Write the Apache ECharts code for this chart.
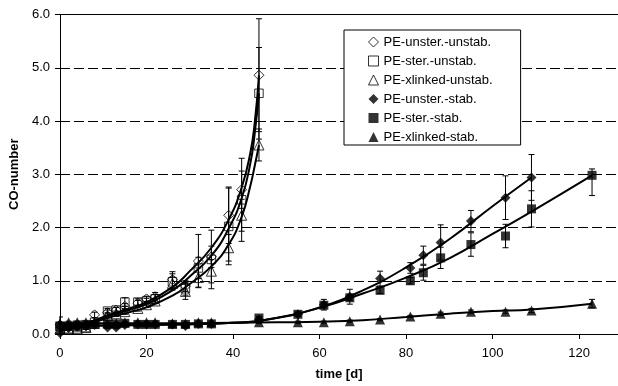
<!DOCTYPE html>
<html><head><meta charset="utf-8">
<script src="https://cdn.jsdelivr.net/npm/echarts@6/dist/echarts.min.js"></script>
<style>html,body{margin:0;padding:0;background:#fff}#c{width:618px;height:386px}</style>
</head><body><div id="c"></div>
<script>
// ---- data ----
const seriesNames = ['PE-unster.-unstab.', 'PE-ster.-unstab.', 'PE-xlinked-unstab.', 'PE-unster.-stab.', 'PE-ster.-stab.', 'PE-xlinked-stab.'];
const xTicks = [0, 20, 40, 60, 80, 100, 120];
const yTicks = [0, 1, 2, 3, 4, 5, 6];

const tUnstab = [0, 2, 4, 6, 8, 11, 13, 15, 18, 20, 22, 26, 29, 32, 35, 39, 42, 46];
const unsterUnstab  = [0.17, 0.12, 0.15, 0.15, 0.36, 0.40, 0.45, 0.52, 0.58, 0.66, 0.70, 1.02, 0.90, 1.37, 1.45, 2.23, 2.71, 4.86];
const sterUnstab    = [0.14, 0.10, 0.12, 0.12, 0.22, 0.43, 0.45, 0.60, 0.60, 0.62, 0.66, 0.98, 0.85, 1.24, 1.40, 2.02, 2.52, 4.52];
const xlinkedUnstab = [0.10, 0.10, 0.10, 0.12, 0.20, 0.35, 0.38, 0.42, 0.48, 0.55, 0.62, 0.95, 0.80, 1.06, 1.18, 1.62, 2.23, 3.55];
const errUnsterUnstab  = [0.15, 0.03, 0.03, 0.03, 0.05, 0.05, 0.05, 0.05, 0.05, 0.05, 0.08, 0.15, 0.10, 0.50, 0.20, 0.53, 0.35, 1.06];
const errSterUnstab    = [0.05, 0.03, 0.03, 0.03, 0.03, 0.05, 0.05, 0.08, 0.06, 0.05, 0.08, 0.15, 0.12, 0.20, 0.55, 0.72, 0.78, 0.86];
const errXlinkedUnstab = [0.03, 0.03, 0.03, 0.03, 0.03, 0.05, 0.05, 0.05, 0.05, 0.05, 0.05, 0.12, 0.15, 0.18, 0.22, 0.25, 0.30, 0.30];

const tStab = [0, 2, 4, 6, 8, 11, 13, 15, 18, 20, 22, 26, 29, 32, 35, 46, 55, 61, 67, 74, 81, 84, 88, 95, 103, 109, 123];
const unsterStab  = [0.02, 0.12, 0.14, 0.16, 0.17, 0.12, 0.12, 0.17, 0.18, 0.18, 0.18, 0.18, 0.15, 0.19, 0.19, 0.27, 0.37, 0.55, 0.70, 1.04, 1.24, 1.48, 1.72, 2.12, 2.56, 2.94, null];
const sterStab    = [0.15, 0.15, 0.17, 0.18, 0.18, 0.19, 0.19, 0.20, 0.18, 0.18, 0.18, 0.18, 0.18, 0.19, 0.19, 0.30, 0.37, 0.54, 0.68, 0.82, 1.00, 1.15, 1.43, 1.68, 1.84, 2.35, 2.98];
const xlinkedStab = [0.20, 0.22, 0.22, 0.22, 0.22, 0.20, 0.20, 0.22, 0.22, 0.22, 0.22, 0.20, 0.20, 0.22, 0.22, 0.22, 0.22, 0.22, 0.24, 0.27, 0.33, null, 0.38, 0.42, 0.42, 0.44, 0.57];
const errUnsterStab    = [0.02, 0.02, 0.02, 0.02, 0.02, 0.02, 0.02, 0.02, 0.02, 0.02, 0.02, 0.02, 0.02, 0.02, 0.02, 0.03, 0.04, 0.10, 0.14, 0.14, 0.10, 0.17, 0.33, 0.20, 0.41, 0.43, 0];
const errSterStabMinus = [0.03, 0.02, 0.02, 0.02, 0.02, 0.02, 0.02, 0.02, 0.02, 0.02, 0.02, 0.02, 0.02, 0.02, 0.02, 0.03, 0.04, 0.05, 0.05, 0.06, 0.06, 0.14, 0.20, 0.22, 0.22, 0.34, 0.38];
const errSterStabPlus  = [0.03, 0.02, 0.02, 0.02, 0.02, 0.02, 0.02, 0.02, 0.02, 0.02, 0.02, 0.02, 0.02, 0.02, 0.02, 0.03, 0.04, 0.05, 0.05, 0.06, 0.06, 0.14, 0.20, 0.22, 0.22, 0.34, 0.12];
const errXlinkedStab   = [0.02, 0.02, 0.02, 0.02, 0.02, 0.02, 0.02, 0.02, 0.02, 0.02, 0.02, 0.02, 0.02, 0.02, 0.02, 0.02, 0.02, 0.02, 0.02, 0.02, 0.02, 0, 0.03, 0.03, 0.03, 0.04, 0.08];

// trend curves
const fitTUnstab = [0, 6, 11, 16, 20, 26, 30, 35, 39, 42, 44, 45, 46];
const fitUnsterUnstab  = [0.08, 0.20, 0.35, 0.48, 0.60, 0.88, 1.18, 1.62, 2.15, 2.75, 3.40, 3.95, 4.86];
const fitSterUnstab    = [0.07, 0.19, 0.33, 0.45, 0.56, 0.82, 1.08, 1.47, 1.98, 2.55, 3.20, 3.75, 4.52];
const fitXlinkedUnstab = [0.06, 0.17, 0.30, 0.41, 0.50, 0.72, 0.94, 1.27, 1.68, 2.20, 2.78, 3.15, 3.55];
const fitTStab = [0, 20, 40, 50, 60, 70, 80, 90, 100, 109, 123];
const fitUnsterStab  = [0.15, 0.17, 0.21, 0.30, 0.50, 0.82, 1.25, 1.78, 2.40, 2.94];
const fitSterStab    = [0.15, 0.17, 0.21, 0.30, 0.49, 0.76, 1.06, 1.42, 1.88, 2.30, 2.98];
const fitXlinkedStab = [0.20, 0.20, 0.21, 0.22, 0.23, 0.26, 0.32, 0.38, 0.43, 0.46, 0.57];

// ---- chart ----
const FONT = 'Liberation Sans, Arial, sans-serif';
const defs = [
  {t: tUnstab, v: unsterUnstab,  em: errUnsterUnstab,  ep: errUnsterUnstab,  ft: fitTUnstab, fv: fitUnsterUnstab,  sym: 'diamond',  size: 10, hollow: true},
  {t: tUnstab, v: sterUnstab,    em: errSterUnstab,    ep: errSterUnstab,    ft: fitTUnstab, fv: fitSterUnstab,    sym: 'rect',     size: 8.5, hollow: true},
  {t: tUnstab, v: xlinkedUnstab, em: errXlinkedUnstab, ep: errXlinkedUnstab, ft: fitTUnstab, fv: fitXlinkedUnstab, sym: 'triangle', size: 10, hollow: true},
  {t: tStab, v: unsterStab,  em: errUnsterStab,    ep: errUnsterStab,   ft: fitTStab, fv: fitUnsterStab,  sym: 'diamond',  size: 10, hollow: false},
  {t: tStab, v: sterStab,    em: errSterStabMinus, ep: errSterStabPlus, ft: fitTStab, fv: fitSterStab,    sym: 'rect',     size: 9, hollow: false},
  {t: tStab, v: xlinkedStab, em: errXlinkedStab,   ep: errXlinkedStab,  ft: fitTStab, fv: fitXlinkedStab, sym: 'triangle', size: 10, hollow: false}
];
const hollowStyle = {color: 'rgba(0,0,0,0)', borderColor: '#000', borderWidth: 1};
const filledStyle = {color: '#000', borderColor: '#000', borderWidth: 0};

function errRender(params, api) {
  const x = api.value(0), y = api.value(1), lo = api.value(2), hi = api.value(3);
  if (!(lo > 0 || hi > 0)) return null;
  const top = api.coord([x, y + hi]);
  const bot = api.coord([x, Math.max(0, y - lo)]);
  const hw = 3;
  const st = {stroke: '#000', lineWidth: 1};
  return {type: 'group', children: [
    {type: 'line', shape: {x1: top[0], y1: top[1], x2: bot[0], y2: bot[1]}, style: st},
    {type: 'line', shape: {x1: top[0] - hw, y1: top[1], x2: top[0] + hw, y2: top[1]}, style: st},
    {type: 'line', shape: {x1: bot[0] - hw, y1: bot[1], x2: bot[0] + hw, y2: bot[1]}, style: st}
  ]};
}

const series = [];
defs.forEach((d, k) => {
  series.push({
    name: 'fit' + k, type: 'line', silent: true, z: 3,
    data: d.ft.map((x, i) => d.fv[i] == null ? null : [x, d.fv[i]]).filter(p => p),
    smooth: 0.5, symbol: 'none',
    lineStyle: {color: '#000', width: 2}
  });
  series.push({
    name: 'err' + k, type: 'custom', silent: true, z: 2, clip: true,
    renderItem: errRender, encode: {x: 0, y: 1},
    data: d.t.map((x, i) => d.v[i] == null ? null : [x, d.v[i], d.em[i], d.ep[i]]).filter(p => p)
  });
  series.push({
    name: seriesNames[k], type: 'scatter', z: 4,
    symbol: d.sym, symbolSize: d.size,
    itemStyle: d.hollow ? hollowStyle : filledStyle,
    data: d.t.map((x, i) => d.v[i] == null ? null : [x, d.v[i]]).filter(p => p)
  });
});

const chart = echarts.init(document.getElementById('c'), null, {renderer: 'canvas'});
chart.setOption({
  animation: false,
  backgroundColor: '#fff',
  textStyle: {fontFamily: FONT},
  grid: {left: 57.4, right: 0, top: 14.5, bottom: 50},
  legend: {
    orient: 'vertical', left: 344, top: 30,
    data: seriesNames.map((n, k) => ({name: n, icon: defs[k].sym, itemStyle: defs[k].hollow ? hollowStyle : filledStyle})),
    itemWidth: 10, itemHeight: 10, itemGap: 5,
    textStyle: {fontFamily: FONT, fontSize: 13, color: '#000', lineHeight: 14},
    backgroundColor: '#fff', borderColor: '#000', borderWidth: 1, borderRadius: 0,
    padding: [5, 28, 1, 24], selectedMode: false
  },
  xAxis: [{
    type: 'value', min: 0, max: 129, interval: 20,
    name: 'time [d]', nameLocation: 'middle', nameGap: 34,
    nameTextStyle: {fontFamily: FONT, fontWeight: 'bold', fontSize: 13, color: '#000'},
    axisLine: {show: true, lineStyle: {color: '#000', width: 1}},
    axisTick: {show: true, inside: false, length: 5, lineStyle: {color: '#000'}, customValues: xTicks},
    axisLabel: {fontFamily: FONT, fontSize: 13, color: '#000', margin: 13, customValues: xTicks},
    splitLine: {show: false}
  }, {
    type: 'value', position: 'top', min: 0, max: 129,
    axisLine: {show: true, lineStyle: {color: '#000', width: 1}},
    axisTick: {show: false}, axisLabel: {show: false}, splitLine: {show: false}
  }],
  yAxis: {
    type: 'value', min: 0, max: 6, interval: 1,
    name: 'CO-number', nameLocation: 'middle', nameGap: 32,
    nameTextStyle: {fontFamily: FONT, fontWeight: 'bold', fontSize: 13, color: '#000'},
    axisLine: {show: true, lineStyle: {color: '#000', width: 1}},
    axisTick: {show: true, inside: false, length: 5, lineStyle: {color: '#000'}},
    axisLabel: {fontFamily: FONT, fontSize: 13, color: '#000', margin: 10, formatter: v => yTicks.includes(v) ? v.toFixed(1) : ''},
    splitLine: {show: true, lineStyle: {color: '#000', width: 1, type: [10, 4]}}
  },
  series: series
});
</script>
</body></html>
